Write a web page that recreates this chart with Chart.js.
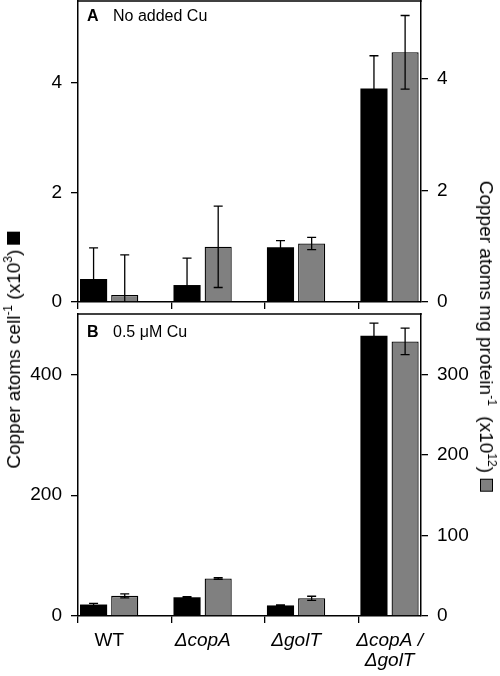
<!DOCTYPE html>
<html><head><meta charset="utf-8">
<script src="https://cdn.jsdelivr.net/npm/chart.js@4/dist/chart.umd.min.js"></script>
<style>
html,body{margin:0;padding:0;background:#fff;}
#wrap{position:relative;width:500px;height:676px;overflow:hidden;font-family:"Liberation Sans",Arial,sans-serif;color:#000;}
canvas{position:absolute;left:0;}
#cA{top:0;} #cB{top:312px;}
.title{position:absolute;white-space:nowrap;font-size:19px;line-height:19px;transform:translate(-50%,-50%) rotate(-90deg);}
.title.r{transform:translate(-50%,-50%) rotate(90deg);}
.title sup{font-size:12px;vertical-align:0;position:relative;top:-8px;}
.sq{display:inline-block;width:13px;height:13px;box-sizing:border-box;vertical-align:0;}
.panel{position:absolute;font-size:16px;line-height:16px;white-space:nowrap;}
</style></head>
<body><div id="wrap">
<canvas id="cA" width="500" height="312"></canvas>
<canvas id="cB" width="500" height="364"></canvas>
<div class="panel" style="left:87px;top:8px"><b>A</b></div>
<div class="panel" style="left:113px;top:8px">No added Cu</div>
<div class="panel" style="left:87px;top:324px"><b>B</b></div>
<div class="panel" style="left:113px;top:324px">0.5 μM Cu</div>
<div class="title" style="left:15px;top:350px">Copper atoms cell<sup>-1</sup> (x10<sup>3</sup>) <span class="sq" style="background:#000"></span></div>
<div class="title r" style="left:485px;top:336px">Copper atoms mg protein<sup>-1</sup>&nbsp; (x10<sup>12</sup>) <span class="sq" style="background:#808080;border:1.5px solid #000"></span></div>
</div>
<script>
// ---- data ----
const categories = ["WT", "ΔcopA", "ΔgolT", ["ΔcopA /", "ΔgolT"]];
const cellNoCu = [0.42, 0.31, 1.0, 3.9];
const cellNoCuErr = [0.57, 0.49, 0.12, 0.6];
const proteinNoCu = [0.125, 0.99, 1.05, 4.48];
const proteinNoCuErr = [0.72, 0.73, 0.11, 0.66];
const cellCu = [19, 31, 17.5, 464];
const cellCuErr = [2, 1, 1, 21];
const proteinCu = [25, 46.5, 22, 341];
const proteinCuErr = [2.5, 1, 2.5, 16.5];
const spacer = [null, null, null, null];
const cellTicksNoCu = {max: 5.5, step: 2};
const proteinTicksNoCu = {max: 5.4, step: 2};
const cellTicksCu = {max: 500, step: 200};
const proteinTicksCu = {max: 375, step: 100};

Chart.defaults.font.family = '"Liberation Sans", Arial, sans-serif';
Chart.defaults.color = '#000';

const errorBars = {
  id: 'errorBars',
  afterDatasetsDraw(chart) {
    const {ctx, chartArea: a} = chart;
    ctx.save();
    ctx.beginPath(); ctx.rect(a.left, a.top, a.right - a.left, a.bottom - a.top); ctx.clip();
    ctx.strokeStyle = '#000'; ctx.lineWidth = 1.3;
    chart.data.datasets.forEach((ds, i) => {
      if (!ds.errors) return;
      const meta = chart.getDatasetMeta(i);
      const ys = chart.scales[ds.yAxisID];
      meta.data.forEach((bar, j) => {
        const v = ds.data[j], e = ds.errors[j];
        if (v == null || e == null) return;
        const x = bar.x;
        const yHi = ys.getPixelForValue(v + e), yLo = ys.getPixelForValue(v - e);
        ctx.beginPath();
        ctx.moveTo(x, yHi); ctx.lineTo(x, yLo);
        ctx.moveTo(x - 4.5, yHi); ctx.lineTo(x + 4.5, yHi);
        ctx.moveTo(x - 4.5, yLo); ctx.lineTo(x + 4.5, yLo);
        ctx.stroke();
      });
    });
    ctx.restore();
  }
};
const topFrame = {
  id: 'topFrame',
  afterDraw(chart) {
    const {ctx, chartArea: a} = chart;
    ctx.save(); ctx.strokeStyle = '#000'; ctx.lineWidth = 1.5;
    ctx.beginPath(); ctx.moveTo(a.left - 0.75, a.top); ctx.lineTo(a.right + 0.75, a.top); ctx.stroke();
    ctx.restore();
  }
};

function yAxis(pos, t, width) {
  return {
    position: pos, min: 0, max: t.max,
    grid: {drawOnChartArea: false, drawTicks: true, tickLength: 7, color: '#000', lineWidth: 1.3},
    border: {display: true, color: '#000', width: 1.5},
    ticks: {stepSize: t.step, includeBounds: false, padding: 9, color: '#000', font: {size: 19}},
    afterFit: s => { s.width = width; s.paddingTop = 0; s.paddingBottom = 0; }
  };
}

function panel(id, cell, cellErr, prot, protErr, tL, tR, showLabels, padTop, xHeight) {
  new Chart(document.getElementById(id), {
    type: 'bar',
    data: {
      labels: categories,
      datasets: [
        {data: cell, errors: cellErr, yAxisID: 'y', backgroundColor: '#000', borderWidth: 0},
        {data: prot, errors: protErr, yAxisID: 'y2', backgroundColor: '#808080', borderColor: '#000', borderWidth: 1.3},
        {data: spacer, yAxisID: 'y', backgroundColor: 'rgba(0,0,0,0)'}
      ]
    },
    options: {
      responsive: false, animation: false, devicePixelRatio: 1,
      layout: {padding: {top: padTop, left: 0, right: 0, bottom: 0}},
      datasets: {bar: {categoryPercentage: 1, barPercentage: 0.87}},
      plugins: {legend: {display: false}, tooltip: {enabled: false}},
      scales: {
        x: {
          offset: true,
          grid: {offset: true, drawOnChartArea: false, drawTicks: true, tickLength: 7, color: '#000', lineWidth: 1.3},
          border: {display: true, color: '#000', width: 1.5},
          ticks: {
            display: showLabels, labelOffset: -15.5, padding: 8, color: '#000',
            maxRotation: 0, autoSkip: false,
            font: ctx => ({size: 19, lineHeight: 1.05,
              style: String(categories[ctx.index]).includes('Δ') ? 'italic' : 'normal'})
          },
          afterBuildTicks: s => { s._valueRange = 3.67; },
          afterFit: s => { s.height = xHeight; s.paddingLeft = 0; s.paddingRight = 0; }
        },
        y: yAxis('left', tL, 78),
        y2: yAxis('right', tR, 79)
      }
    },
    plugins: [errorBars, topFrame]
  });
}

panel('cA', cellNoCu, cellNoCuErr, proteinNoCu, proteinNoCuErr, cellTicksNoCu, proteinTicksNoCu, false, 1, 10);
panel('cB', cellCu, cellCuErr, proteinCu, proteinCuErr, cellTicksCu, proteinTicksCu, true, 2, 60);
</script>
</body></html>
